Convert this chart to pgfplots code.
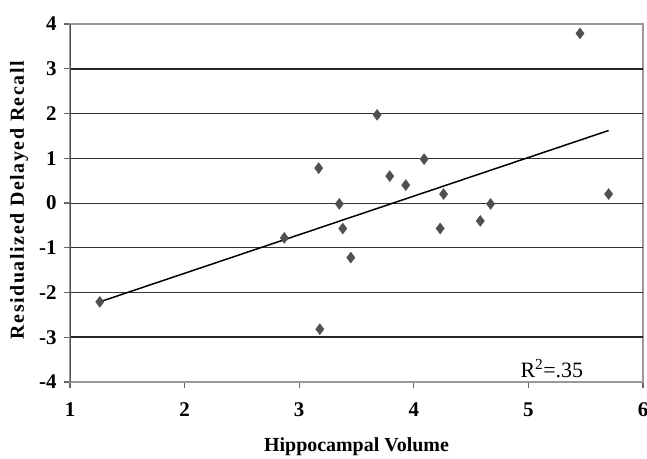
\documentclass[border=0pt]{standalone}
\usepackage{fontspec}
\setmainfont{Liberation Serif}
\usepackage{pgfplots}
\pgfplotsset{compat=1.18}
\definecolor{markgray}{RGB}{80,80,80}
\begin{document}
\begin{tikzpicture}
\begin{axis}[
    name=ax,
    scale only axis,
    width=573bp, height=358bp,
    xmin=1, xmax=6, ymin=-4, ymax=4,
    xtick={1,...,6}, ytick={-4,...,4},
    xtick pos=bottom, ytick pos=left,
    tick align=outside,
    major tick length=6bp,
    tick style={black!60, line width=1.2bp},
    axis line style={draw=gray!80, line width=1.5bp},
    /pgf/number format/assume math mode=true,
    tick label style={font=\fontsize{21}{24}\selectfont\bfseries},
    xticklabel style={yshift=-11bp},
    yticklabel style={xshift=-4bp},
    extra y ticks={-2,-1,0,1,2},
    extra y tick labels={},
    extra y tick style={grid=major, major grid style={black!80, line width=1bp}},
    xlabel={Hippocampal Volume},
    ylabel={Residualized Delayed Recall},
    label style={font=\fontsize{20}{23}\selectfont\bfseries},
    xlabel style={at={(axis description cs:0.5,0)}, anchor=center, yshift=-65bp},
    ylabel style={at={(axis description cs:-0.089,0.508)}, anchor=center,
        font=\fontsize{20}{23}\selectfont\bfseries\addfontfeatures{LetterSpace=8}},
]
\draw[black!85, line width=2bp] (axis cs:1,3) -- (axis cs:6,3);
\draw[black!85, line width=2bp] (axis cs:1,-3) -- (axis cs:6,-3);
\draw[black!70, line width=1.8bp] (rel axis cs:0,0) -- (rel axis cs:0,1);
\addplot[only marks, mark=diamond*, mark size=5.5bp, color=markgray] coordinates {
    (1.26,-2.21) (2.87,-0.78) (3.18,-2.82) (3.17,0.78) (5.45,3.79)
    (3.68,1.97) (4.09,0.98) (3.79,0.60) (3.93,0.40) (4.26,0.20)
    (5.70,0.20) (3.35,-0.02) (4.67,-0.02) (4.58,-0.40) (3.38,-0.57)
    (4.23,-0.57) (3.45,-1.22)
};
\addplot[black, line width=1.5bp] coordinates {(1.27,-2.2) (5.7,1.62)};
\node[anchor=base west, inner sep=0pt, font=\fontsize{22}{25}\selectfont]
    at (axis cs:4.93,-3.89) {R\textsuperscript{2}=.35};
\end{axis}
\path (ax.south west) ++(-70bp,-76bp) coordinate (bl);
\path (ax.north east) ++(4bp,24bp) coordinate (tr);
\pgfresetboundingbox
\useasboundingbox (bl) rectangle (tr);
\end{tikzpicture}
\end{document}
